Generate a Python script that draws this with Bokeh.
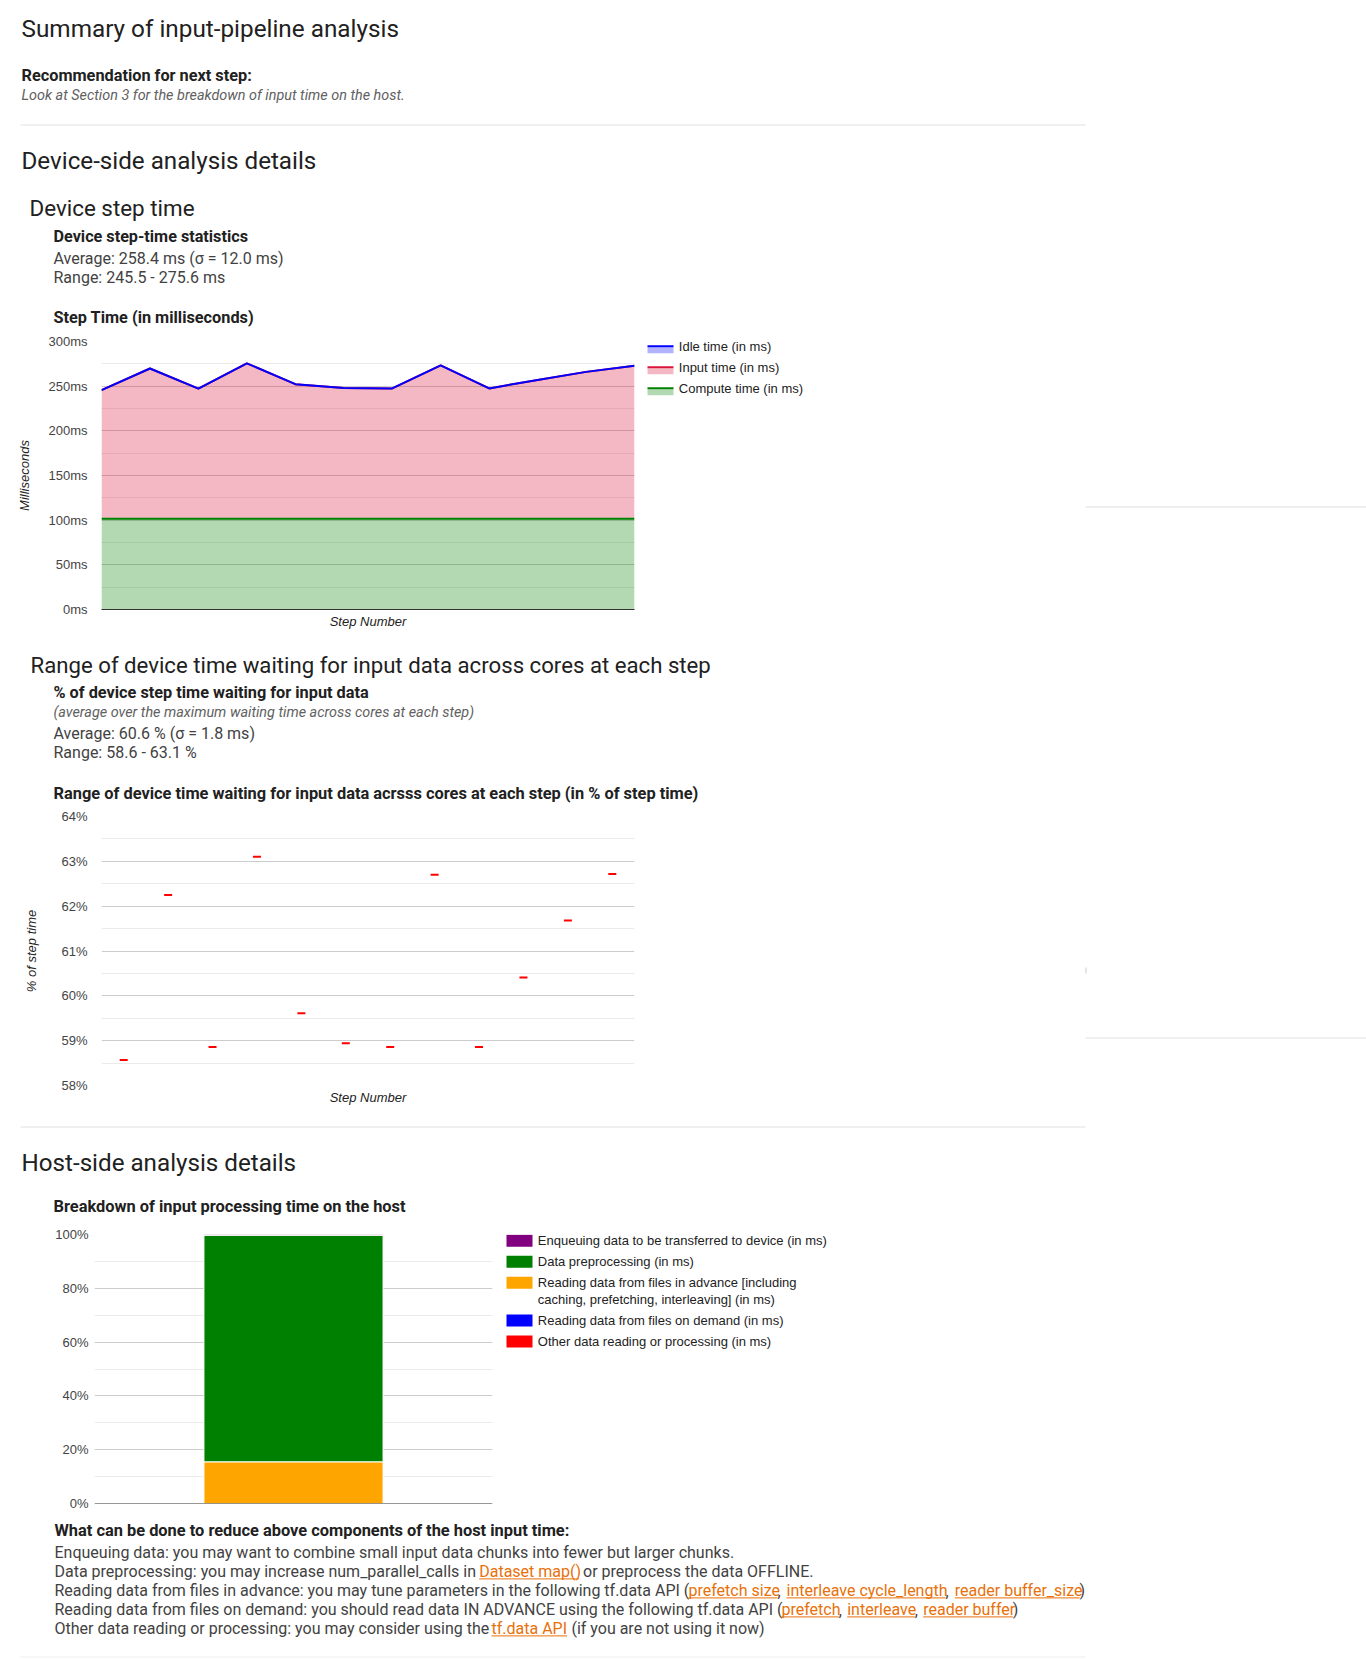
from bokeh.plotting import figure
from bokeh.models import Range1d, ColumnDataSource, FixedTicker, FactorRange, Span
from bokeh.layouts import column, row
from bokeh.core.properties import value
from bokeh.transform import stack
from bokeh.embed import file_html
from bokeh.resources import INLINE

# ---------------- data ----------------
steps = [1, 2, 3, 4, 5, 6, 7, 8, 9, 10, 11, 12]
compute_ms = [101.7, 101.7, 101.7, 101.7, 101.7, 101.7, 101.7, 101.7, 101.7, 101.7, 101.7, 101.7]
input_ms = [143.8, 168.1, 145.6, 173.9, 150.5, 146.2, 145.8, 171.6, 145.8, 155.3, 164.3, 171.1]
idle_ms = [0.0, 0.0, 0.0, 0.0, 0.0, 0.0, 0.0, 0.0, 0.0, 0.0, 0.0, 0.0]
step_series = ["Idle time (in ms)", "Input time (in ms)", "Compute time (in ms)"]
step_ticks = [0, 50, 100, 150, 200, 250, 300]
step_tick_labels = ["0ms", "50ms", "100ms", "150ms", "200ms", "250ms", "300ms"]
step_minor_ticks = [25, 75, 125, 175, 225, 275]

wait_pct = [58.57, 62.25, 58.86, 63.10, 59.61, 58.94, 58.86, 62.70, 58.86, 60.41, 61.68, 62.72]
pct_ticks = [58, 59, 60, 61, 62, 63, 64]
pct_tick_labels = ["58%", "59%", "60%", "61%", "62%", "63%", "64%"]
pct_minor_ticks = [58.5, 59.5, 60.5, 61.5, 62.5, 63.5]

host_category = ["Host"]
host_keys = ["other", "demand", "advance", "preprocessing", "enqueue"]
host_pct_other = [0.0]
host_pct_demand = [0.0]
host_pct_advance = [15.5]
host_pct_preprocessing = [84.2]
host_pct_enqueue = [0.3]
host_legend = [
    ["Enqueuing data to be transferred to device (in ms)"],
    ["Data preprocessing (in ms)"],
    ["Reading data from files in advance [including", "caching, prefetching, interleaving] (in ms)"],
    ["Reading data from files on demand (in ms)"],
    ["Other data reading or processing (in ms)"],
]
host_ticks = [0, 20, 40, 60, 80, 100]
host_tick_labels = ["0%", "20%", "40%", "60%", "80%", "100%"]
host_minor_ticks = [10, 30, 50, 70, 90]

# ---------------- styles ----------------
PAGE_FONT = "Roboto"
CHART_FONT = "Liberation Sans"
HEAD = "#212121"
BODY = "#424242"
GRAY = "#616161"
LINK = "#e8710a"
DIV = "#e0e0e0"
C_IDLE, C_INPUT, C_COMP = "#0000ff", "#dc143c", "#008000"
HOST_COLORS = {"enqueue": "#800080", "preprocessing": "#008000", "advance": "#ffa500",
               "demand": "#0000ff", "other": "#ff0000"}
W = 1366
H = 1658
SP = 4.2  # width of a space at 16px


def canvas(x0, y0, x1, y1):
    return figure(width=x1 - x0, height=y1 - y0, x_range=Range1d(x0, x1), y_range=Range1d(y1, y0),
                  x_axis_type=None, y_axis_type=None, toolbar_location=None,
                  output_backend="svg", min_border=0, outline_line_color=None)


def side_canvas(x0, y0, x1, y1, ftop, fbot):
    # a blank panel beside a chart; its frame lines up with the chart's frame
    return figure(width=x1 - x0, height=y1 - y0, x_range=Range1d(x0, x1), y_range=Range1d(fbot, ftop),
                  x_axis_type=None, y_axis_type=None, toolbar_location=None,
                  output_backend="svg", min_border_left=0, min_border_right=0,
                  min_border_top=ftop - y0, min_border_bottom=y1 - fbot, outline_line_color=None)


def txt(p, x, yc, s, size, color=BODY, style="normal", font=PAGE_FONT):
    # yc = vertical centre of the text line
    p.text(x=[x], y=[yc], text=[s], text_font=value(font), text_font_size=value(f"{size}px"),
           text_font_style=style, text_color=color, text_baseline="alphabetic", text_align="left")


def hline(p, x0, x1, y, color=DIV, w=1):
    p.segment(x0=[x0], y0=[y], x1=[x1], y1=[y], line_color=color, line_width=w)


def style_yaxis(p, ticks, labels, minor, standoff, title=None, title_standoff=0):
    ax = p.yaxis[0]
    tk = FixedTicker(ticks=ticks, minor_ticks=minor)
    ax.ticker = tk
    p.ygrid[0].ticker = tk
    ax.major_label_overrides = {t: l for t, l in zip(ticks, labels)}
    ax.axis_line_color = None
    ax.major_tick_line_color = None
    ax.minor_tick_line_color = None
    ax.major_tick_out = 0
    ax.major_tick_in = 0
    ax.minor_tick_out = 0
    ax.major_label_standoff = standoff
    ax.major_label_text_font = CHART_FONT
    ax.major_label_text_font_size = "13px"
    ax.major_label_text_color = "#444444"
    if title:
        ax.axis_label = title
        ax.axis_label_text_font = CHART_FONT
        ax.axis_label_text_font_size = "13px"
        ax.axis_label_text_font_style = "italic"
        ax.axis_label_text_color = "#222222"
        ax.axis_label_standoff = title_standoff
    p.ygrid[0].grid_line_color = "#cccccc"
    p.ygrid[0].minor_grid_line_color = "#ebebeb"
    p.xgrid[0].visible = False


def style_xaxis(p, title, line_color):
    ax = p.xaxis[0]
    ax.ticker = FixedTicker(ticks=[])
    ax.major_tick_line_color = None
    ax.minor_tick_line_color = None
    ax.major_tick_out = 0
    ax.minor_tick_out = 0
    ax.major_tick_in = 0
    ax.major_label_standoff = 0
    ax.axis_line_color = line_color
    ax.axis_label = title
    ax.axis_label_text_font = CHART_FONT
    ax.axis_label_text_font_size = "13px"
    ax.axis_label_text_font_style = "italic"
    ax.axis_label_text_color = "#222222"
    ax.axis_label_standoff = 4


# ---------------- section A ----------------
A = canvas(0, 0, W, 330)
txt(A, 21, 28.3, "Summary of input-pipeline analysis", 24.3, HEAD)
txt(A, 21, 74.7, "Recommendation for next step:", 16.3, HEAD, "bold")
txt(A, 21, 95.0, "Look at Section 3 for the breakdown of input time on the host.", 14.4, GRAY, "italic")
hline(A, 20, 1085, 124.5)
txt(A, 21, 160.6, "Device-side analysis details", 24.2, HEAD)
txt(A, 29, 207.6, "Device step time", 22.4, HEAD)
txt(A, 53, 235.6, "Device step-time statistics", 16.2, HEAD, "bold")
txt(A, 53, 257.7, "Average: 258.4 ms (\u03c3 = 12.0 ms)", 16, BODY)
txt(A, 53, 276.7, "Range: 245.5 - 275.6 ms", 16, BODY)
txt(A, 53, 317, "Step Time (in milliseconds)", 16.3, HEAD, "bold")

# ---------------- chart 1 ----------------
R1_TOP, R1_BOT, F1_TOP, F1_BOT = 330, 636, 341, 609
src1 = ColumnDataSource(dict(step=steps, compute=compute_ms, input=input_ms, idle=idle_ms))
p1 = figure(width=642, height=R1_BOT - R1_TOP, x_range=Range1d(steps[0], steps[-1]),
            y_range=Range1d(step_ticks[0], step_ticks[-1]), toolbar_location=None,
            output_backend="svg", min_border_left=101, min_border_right=8,
            min_border_top=F1_TOP - R1_TOP, min_border_bottom=R1_BOT - F1_BOT, outline_line_color=None)
style_yaxis(p1, step_ticks, step_tick_labels, step_minor_ticks, 14, "Milliseconds", 13)
style_xaxis(p1, "Step Number", "#333333")
p1.varea_stack(["compute", "input", "idle"], x="step", color=[C_COMP, C_INPUT, C_IDLE],
               fill_alpha=0.3, source=src1)
p1.line(x="step", y=stack("compute"), source=src1, line_color=C_COMP, line_width=2)
p1.line(x="step", y=stack("compute", "input"), source=src1, line_color=C_INPUT, line_width=2)
p1.line(x="step", y=stack("compute", "input", "idle"), source=src1, line_color=C_IDLE, line_width=2)

L1 = side_canvas(642, R1_TOP, W, R1_BOT, F1_TOP, F1_BOT)
for i, (name, col) in enumerate(zip(step_series, [C_IDLE, C_INPUT, C_COMP])):
    yc = 346.4 + 21 * i
    L1.quad(left=[647], right=[673], top=[yc + 0.4], bottom=[yc + 6.4], fill_color=col,
            fill_alpha=0.3, line_color=None)
    hline(L1, 647, 673, yc - 0.6, col, 2)
    txt(L1, 678.3, yc, name, 13, "#222222", font=CHART_FONT)
hline(L1, 1085, W, 506.5)

# ---------------- section B ----------------
B = canvas(0, 636, W, 806)
txt(B, 30, 664.3, "Range of device time waiting for input data across cores at each step", 22.2, HEAD)
txt(B, 53, 692.3, "% of device step time waiting for input data", 16.3, HEAD, "bold")
txt(B, 53, 712.2, "(average over the maximum waiting time across cores at each step)", 14.4, GRAY, "italic")
txt(B, 53, 732.7, "Average: 60.6 % (\u03c3 = 1.8 ms)", 16, BODY)
txt(B, 53, 751.7, "Range: 58.6 - 63.1 %", 16, BODY)
txt(B, 53, 792.5, "Range of device time waiting for input data acrsss cores at each step (in % of step time)",
    16.4, HEAD, "bold")

# ---------------- chart 2 ----------------
R2_TOP, R2_BOT, F2_TOP, F2_BOT = 806, 1113, 816, 1085
src2 = ColumnDataSource(dict(step=steps, pct=wait_pct))
p2 = figure(width=642, height=R2_BOT - R2_TOP, x_range=Range1d(steps[0] - 0.5, steps[-1] + 0.5),
            y_range=Range1d(pct_ticks[0], pct_ticks[-1]), toolbar_location=None,
            output_backend="svg", min_border_left=101, min_border_right=8,
            min_border_top=F2_TOP - R2_TOP, min_border_bottom=R2_BOT - F2_BOT, outline_line_color=None)
style_yaxis(p2, pct_ticks, pct_tick_labels, pct_minor_ticks, 14, "% of step time", 19)
style_xaxis(p2, "Step Number", None)
p2.rect(x="step", y="pct", width=8, height=2, width_units="screen", height_units="screen",
        fill_color="#ff0000", line_color=None, source=src2)

D2 = side_canvas(642, R2_TOP, W, R2_BOT, F2_TOP, F2_BOT)
hline(D2, 1085, W, 1037.5)
D2.segment(x0=[1085.5], y0=[967], x1=[1085.5], y1=[973], line_color="#cccccc", line_width=1)

# ---------------- section C ----------------
C = canvas(0, 1113, W, 1222)
hline(C, 20, 1085, 1126.5)
txt(C, 21, 1162.5, "Host-side analysis details", 24.2, HEAD)
txt(C, 53, 1206.3, "Breakdown of input processing time on the host", 16.4, HEAD, "bold")

# ---------------- chart 3 ----------------
R3_TOP, R3_BOT, F3_TOP, F3_BOT = 1222, 1515, 1234, 1503
src3 = ColumnDataSource(dict(cat=host_category, other=host_pct_other, demand=host_pct_demand,
                             advance=host_pct_advance, preprocessing=host_pct_preprocessing,
                             enqueue=host_pct_enqueue))
p3 = figure(width=500, height=R3_BOT - R3_TOP, x_range=FactorRange(factors=host_category),
            y_range=Range1d(host_ticks[0], host_ticks[-1]), toolbar_location=None,
            output_backend="svg", min_border_left=94, min_border_right=8,
            min_border_top=F3_TOP - R3_TOP, min_border_bottom=R3_BOT - F3_BOT, outline_line_color=None)
style_yaxis(p3, host_ticks, host_tick_labels, host_minor_ticks, 6)
p3.xaxis.visible = False
p3.vbar_stack(host_keys, x="cat", width=0.45, color=[HOST_COLORS[k] for k in host_keys],
              line_color="white", line_width=1, source=src3)
p3.add_layout(Span(location=host_ticks[0], dimension="width", line_color="#333333", line_width=1))

L3 = side_canvas(500, R3_TOP, W, R3_BOT, F3_TOP, F3_BOT)
legend_keys = ["enqueue", "preprocessing", "advance", "demand", "other"]
yc = 1240.3
for key, lines in zip(legend_keys, host_legend):
    L3.quad(left=[506], right=[532], top=[yc - 6], bottom=[yc + 6], fill_color=HOST_COLORS[key],
            line_color=None)
    for j, s in enumerate(lines):
        txt(L3, 537.3, yc + 16.8 * j, s, 13, "#222222", font=CHART_FONT)
    yc += 21 + 16.8 * (len(lines) - 1)

# ---------------- section D ----------------
D = canvas(0, R3_BOT, W, H)
txt(D, 54, 1530.3, "What can be done to reduce above components of the host input time:", 16.4, HEAD, "bold")
tips = [
    [("Enqueuing data: you may want to combine small input data chunks into fewer but larger chunks.", 54, None)],
    [("Data preprocessing: you may increase num_parallel_calls in", 54, None),
     ("Dataset map()", 478.7, 578.3),
     ("or preprocess the data OFFLINE.", 578.3 + SP, None)],
    [("Reading data from files in advance: you may tune parameters in the following tf.data API (", 54, None),
     ("prefetch size", 688, 777), (",", 777, None),
     ("interleave cycle_length", 786, 945), (",", 945, None),
     ("reader buffer_size", 954.3, 1079), (")", 1079, None)],
    [("Reading data from files on demand: you should read data IN ADVANCE using the following tf.data API (", 54, None),
     ("prefetch", 781, 838.3), (",", 838.3, None),
     ("interleave", 846.7, 914.3), (",", 914.3, None),
     ("reader buffer", 922.7, 1012.3), (")", 1012.3, None)],
    [("Other data reading or processing: you may consider using the", 54, None),
     ("tf.data API", 491, 566.7),
     ("(if you are not using it now)", 566.7 + SP, None)],
]
for i, parts in enumerate(tips):
    yc = 1552.2 + 19 * i
    for s, x, xe in parts:
        if xe is None:
            txt(D, x, yc, s, 16, BODY)
        else:
            txt(D, x, yc, s, 16, LINK)
            hline(D, x, xe, yc + 7.2, LINK, 1)
hline(D, 20, 1085, 1656.5, "#eeeeee")

layout = column(A, row(p1, L1), B, row(p2, D2), C, row(p3, L3), D)

html = file_html(layout, INLINE, title="Input pipeline analysis")
with open("out.html", "w") as f:
    f.write(html)
